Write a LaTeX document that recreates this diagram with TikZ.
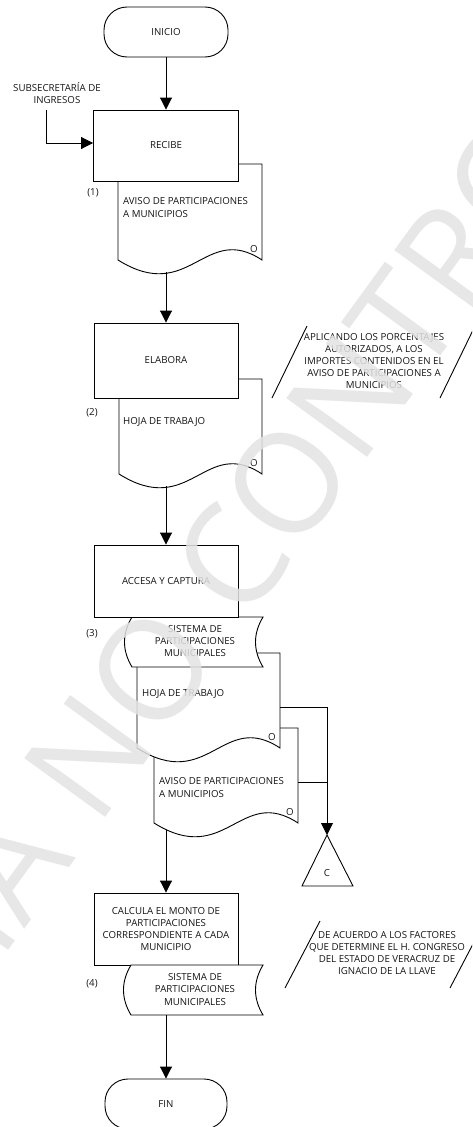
\documentclass[tikz,border=0pt]{standalone}
\usepackage{fontspec}
\setmainfont{Open Sans}
\usetikzlibrary{arrows.meta}
\newcommand{\docshape}[4]{%
  \pgfmathsetmacro\dw{#3-#1}%
  \pgfmathsetmacro\cxa{#1+0.5*\dw}%
  \pgfmathsetmacro\cxb{#1+0.6*\dw}%
  \draw[shp] (#1,#4) -- (#1,#2) -- (#3,#2) -- (#3,#4)
    .. controls (\cxb,#4-38) and (\cxa,#4+45) .. (#1,#4) -- cycle;}
\newcommand{\storedshape}[4]{%
  \pgfmathsetmacro\sha{#1+(#2-#1)/3}%
  \pgfmathsetmacro\shb{#1+2*(#2-#1)/3}%
  \draw[shp] (#3,#1) -- (#4,#1)
    .. controls (#4-10,\sha) and (#4-10,\shb) .. (#4,#2) -- (#3,#2)
    .. controls (#3-10,\shb) and (#3-10,\sha) .. (#3,#1) -- cycle;}
\begin{document}
\begin{tikzpicture}[x=1pt,y=-1pt,
  shp/.style={draw=black, line width=0.9pt, fill=white},
  line/.style={draw=black, line width=0.9pt},
  box/.style={draw=black, line width=0.9pt, fill=white, minimum width=144pt, inner sep=0pt, font=\fontsize{9.7}{12.2}\selectfont, text=black!92, align=center},
  term/.style={draw=black, line width=0.9pt, fill=white, rounded corners=23pt, minimum width=124pt, minimum height=50pt, inner sep=0pt, font=\fontsize{9.7}{12.2}\selectfont, text=black!92},
  arr/.style={draw=black, line width=0.9pt, -{Triangle[width=12pt,length=12pt]}},
  txt/.style={inner sep=0pt, font=\fontsize{9.7}{12.2}\selectfont, text=black!92},
  wm/.style={inner sep=0pt, font=\fontsize{140}{140}\selectfont, text=black!11, text opacity=0.85}]
\useasboundingbox (0,0) rectangle (472,1127);
\clip (0,0) rectangle (472,1127);

% ---- start
\node[term] (inicio) at (166,32) {INICIO};
\node[txt, align=center] (sub) at (57,93) {SUBSECRETARÍA DE\\INGRESOS};
\coordinate (subtop) at (46,110);

% ---- step 1
\docshape{118}{164}{262}{260}
\node[box, minimum width=145pt, minimum height=71pt] (recibe) at (166,145.5) {RECIBE};
\node[txt, align=left, anchor=west] (d1t) at (123,207.5) {AVISO DE PARTICIPACIONES\\A MUNICIPIOS};
\node[txt] (d1o) at (254,249) {O};
\node[txt] (n1) at (93,193) {(1)};
\coordinate (d1b) at (166,272);

\draw[arr] (inicio) -- (recibe);
\draw[arr] (subtop) |- ([yshift=2.5pt]recibe.west);

% ---- step 2
\docshape{119}{379}{262}{474}
\node[box, minimum height=75pt] (elabora) at (166,360.5) {ELABORA};
\node[txt, anchor=west] (d2t) at (123,422) {HOJA DE TRABAJO};
\node[txt] (d2o) at (254,463) {O};
\node[txt] (n2) at (92,413) {(2)};
\coordinate (d2b) at (166,486);
\draw[arr] (d1b) -- (elabora);

\coordinate (a1) at (272,398);
\coordinate (a2) at (307,326);
\coordinate (a3) at (440,398);
\coordinate (a4) at (475,326);
\draw[line] (a1) -- (a2);
\draw[line] (a3) -- (a4);
\node[txt, align=center] (ann1) at (374,361) {APLICANDO LOS PORCENTAJES\\AUTORIZADOS, A LOS\\IMPORTES CONTENIDOS EN EL\\AVISO DE PARTICIPACIONES A\\MUNICIPIOS};

% ---- step 3
\docshape{154}{728}{298}{823}
\docshape{137}{653}{280}{748}
\storedshape{617}{667}{132}{263}
\node[box, minimum height=72pt] (accesa) at (166,581) {ACCESA Y CAPTURA};
\draw[arr] (d2b) -- (accesa);
\node[txt, align=center] (s1t) at (195,641) {SISTEMA DE\\PARTICIPACIONES\\MUNICIPALES};
\node[txt, anchor=west] (d3t) at (142,694) {HOJA DE TRABAJO};
\node[txt] (d3o) at (272,737) {O};
\node[txt, align=left, anchor=west] (d4t) at (159,787.5) {AVISO DE PARTICIPACIONES\\A MUNICIPIOS};
\node[txt] (d4o) at (290,812) {O};
\node[txt] (n3) at (92,634) {(3)};

\coordinate (d3r) at (280,707);
\coordinate (d4r) at (298,782);
\coordinate (capex) at (327,835);
\coordinate (cbr) at (353,886);
\coordinate (cbl) at (302,886);
\draw[line] (capex) -- (cbr) -- (cbl) -- cycle;
\node[txt] (conn) at (327,873) {C};
\draw[arr] (d3r) -| (capex);
\draw[line] (d4r) -- (d4r -| capex);
\coordinate (d4b) at (166,830);

% ---- step 4
\node[box, minimum height=72pt] (calcula) at (166,929) {CALCULA EL MONTO DE\\PARTICIPACIONES\\CORRESPONDIENTE A CADA\\MUNICIPIO};
\draw[arr] (d4b) -- (calcula);
\storedshape{965}{1015}{131}{263}
\node[txt, align=center] (s2t) at (195,989.5) {SISTEMA DE\\PARTICIPACIONES\\MUNICIPALES};
\node[txt] (n4) at (92,984) {(4)};
\coordinate (s2b) at (166,1015);

\coordinate (b1) at (285,988);
\coordinate (b2) at (320,921);
\coordinate (b3) at (450,988);
\coordinate (b4) at (485,921);
\draw[line] (b1) -- (b2);
\draw[line] (b3) -- (b4);
\node[txt, align=center] (ann2) at (387,953) {DE ACUERDO A LOS FACTORES\\QUE DETERMINE EL H. CONGRESO\\DEL ESTADO DE VERACRUZ DE\\IGNACIO DE LA LLAVE};

% ---- end
\node[term, minimum width=122pt] (fin) at (166,1104) {FIN};
\draw[arr] (s2b) -- (fin);

% ---- watermark
\node[wm, rotate=54, anchor=base west] (wm1) at (24,930) {A NO CONTROLADA};
\node[wm, rotate=54, anchor=base east] (wm2) at (24,930) {COPI};
\end{tikzpicture}
\end{document}
